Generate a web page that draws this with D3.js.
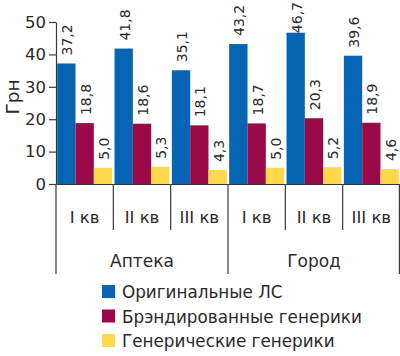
<!DOCTYPE html>
<html><head><meta charset="utf-8">
<script src="https://cdn.jsdelivr.net/npm/d3@7"></script>
<style>body{margin:0;background:#fff}svg{display:block;font-family:"DejaVu Sans",sans-serif}</style>
</head><body><svg id="c" width="400" height="356"></svg>
<script>
const groups = ["Аптека", "Город"];
const quarters = ["I кв", "II кв", "III кв"];
const seriesNames = ["Оригинальные ЛС", "Брэндированные генерики", "Генерические генерики"];
const original = [37.2, 41.8, 35.1, 43.2, 46.7, 39.6];
const branded = [18.8, 18.6, 18.1, 18.7, 20.3, 18.9];
const generic = [5.0, 5.3, 4.3, 5.0, 5.2, 4.6];
const yTicks = [0, 10, 20, 30, 40, 50];
const colors = ["#0565b4", "#9a0a48", "#ffd84c"];

const series = [original, branded, generic];
const cats = [];
groups.forEach(g => quarters.forEach(q => cats.push(g + "|" + q)));

const svg = d3.select("#c");
const pLeft = 56, pRight = 400, pTop = 22, pBottom = 184;
const x = d3.scaleBand().domain(cats).range([pLeft, pRight]).paddingInner(0).paddingOuter(0);
const xi = d3.scaleBand().domain(d3.range(3)).range([0, x.bandwidth()]).paddingInner(0).paddingOuter(0.065);
const y = d3.scaleLinear().domain([0, 50]).range([pBottom, pTop]);
const ink = "#3a3a3a", txt = "#2a2a2a";

// bars
series.forEach((s, si) => {
  svg.append("g").selectAll("rect").data(s).join("rect")
    .attr("x", (d, i) => x(cats[i]) + xi(si))
    .attr("width", xi.bandwidth())
    .attr("y", d => y(d))
    .attr("height", d => y(0) - y(d))
    .attr("fill", colors[si]);
  const lbl = svg.append("g").selectAll("text").data(s).join("text")
    .attr("font-size", 14).attr("fill", txt)
    .text(d => d.toFixed(1).replace(".", ","));
  lbl.attr("transform", function (d, i) {
    const len = this.getComputedTextLength();
    const yEnd = Math.max(y(d) - 8, 2 + len);
    return `translate(${x(cats[i]) + xi(si) + xi.bandwidth() / 2 + 6},${yEnd}) rotate(-90)`;
  });
});

// y axis
const ya = svg.append("g").attr("transform", `translate(${pLeft},0)`)
  .call(d3.axisLeft(y).tickValues(yTicks).tickSize(7).tickSizeOuter(0));
ya.select(".domain").attr("stroke", ink).attr("stroke-width", 1.2);
ya.selectAll(".tick line").attr("stroke", ink).attr("stroke-width", 1.2);
ya.selectAll(".tick text").attr("font-size", 16.5).attr("fill", txt).attr("x", -10)
  .attr("font-family", "DejaVu Sans, sans-serif");

svg.append("text").attr("transform", `translate(19,97) rotate(-90)`)
  .attr("text-anchor", "middle").attr("font-size", 18.5).attr("fill", txt).text("Грн");

// x axis baseline
const xa = svg.append("g").attr("transform", `translate(0,${pBottom})`)
  .call(d3.axisBottom(x).tickSize(0).tickFormat(""));
xa.select(".domain").attr("stroke", ink).attr("stroke-width", 1.2);

// quarter separators and labels
cats.forEach((c, i) => {
  const x0 = x(c);
  const isGroupEdge = i % 3 === 0;
  svg.append("line").attr("x1", x0).attr("x2", x0).attr("y1", pBottom).attr("y2", isGroupEdge ? 274 : 230)
    .attr("stroke", ink).attr("stroke-width", 1.2);
  svg.append("text").attr("x", x0 + x.bandwidth() / 2).attr("y", 223).attr("text-anchor", "middle")
    .attr("font-size", 16.5).attr("fill", txt).text(c.split("|")[1]);
});
svg.append("line").attr("x1", pRight - 0.6).attr("x2", pRight - 0.6).attr("y1", pBottom).attr("y2", 274)
  .attr("stroke", ink).attr("stroke-width", 1.2);
groups.forEach(g => {
  const x0 = x(g + "|" + quarters[0]);
  const x1 = x(g + "|" + quarters[2]) + x.bandwidth();
  svg.append("text").attr("x", (x0 + x1) / 2).attr("y", 267).attr("text-anchor", "middle")
    .attr("font-size", 17).attr("fill", txt).text(g);
});

// legend
seriesNames.forEach((n, i) => {
  const yy = 298 + i * 24.5;
  svg.append("rect").attr("x", 102).attr("y", yy - 13).attr("width", 13).attr("height", 13).attr("fill", colors[i]);
  svg.append("text").attr("x", 122).attr("y", yy).attr("font-size", 16.8).attr("fill", txt).text(n);
});
</script></body></html>
